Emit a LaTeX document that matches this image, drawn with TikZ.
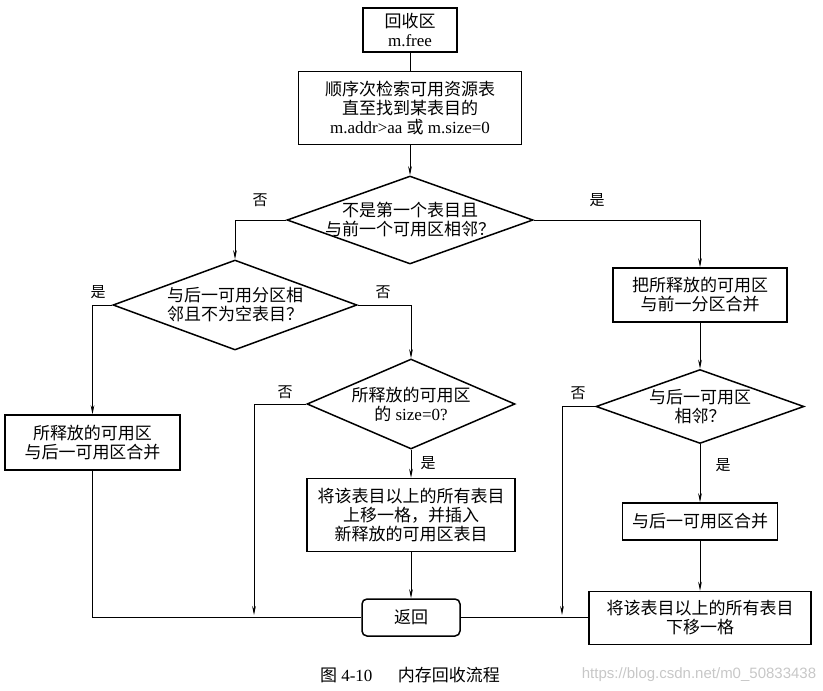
\documentclass[tikz,border=0pt]{standalone}
\usepackage{fontspec}
\setmainfont{Liberation Serif}
\newfontfamily\cjk{Noto Sans CJK SC}
\newfontfamily\wmfont{Liberation Sans}
\newcommand{\zh}[1]{{\cjk #1}}
\newcommand{\boxfont}{\fontsize{17}{19}\selectfont}
\usepackage{tikz}
\usetikzlibrary{positioning,shapes.geometric,arrows.meta}

\begin{document}
\begin{tikzpicture}[
    x=1pt, y=-1pt,
    >={Stealth[length=9pt,width=3.6pt]},
    procnode/.style={rectangle, draw, line width=1.5pt, align=center, inner sep=2pt, font=\boxfont},
    endnode/.style={procnode, rounded corners=5pt},
    decnode/.style={diamond, draw, line width=1.5pt, inner sep=0pt},
    dectext/.style={label={[align=center, font=\boxfont]center:#1}},
    tagnode/.style={font=\fontsize{15}{15}\selectfont, inner sep=0pt},
    flow/.style={line width=0.7pt}
]
\useasboundingbox (0,0) rectangle (823,691);
% main column
\node[procnode, minimum width=94pt, minimum height=44pt](start) at (410,30){\zh{回收区}\\m.free};
\node[procnode, minimum width=223pt, minimum height=73pt](search)[below=18pt of start]{\zh{顺序次检索可用资源表}\\\zh{直至找到某表目的}\\m.addr>aa \zh{或} m.size=0};
\node[decnode, minimum width=246pt, minimum height=88pt, dectext={\zh{不是第一个表目且}\\\zh{与前一个可用区相邻？}}](prev)[below=30pt of search]{};
% left side
\node[decnode, minimum width=244pt, minimum height=90pt, dectext={\zh{与后一可用分区相}\\\zh{邻且不为空表目？}}](nextl) at (235,305){};
\node[procnode, minimum width=175pt, minimum height=55pt](mergenext) at (92.5,442.5){\zh{所释放的可用区}\\\zh{与后一可用区合并}};
\node[decnode, minimum width=208pt, minimum height=90pt, dectext={\zh{所释放的可用区}\\\zh{的} size=0?}](zero) at (411,404){};
\node[procnode, minimum width=208pt, minimum height=73pt](insert)[below=28pt of zero]{\zh{将该表目以上的所有表目}\\\zh{上移一格，并插入}\\\zh{新释放的可用区表目}};
\node[endnode, minimum width=98pt, minimum height=37pt](back)[below=46pt of insert]{\zh{返回}};
% right side
\node[procnode, minimum width=174pt, minimum height=54pt](mergeprev) at (700,295){\zh{把所释放的可用区}\\\zh{与前一分区合并}};
\node[decnode, minimum width=208pt, minimum height=74pt, dectext={\zh{与后一可用区}\\\zh{相邻？}}](nextr)[below=46pt of mergeprev]{};
\node[procnode, minimum width=155pt, minimum height=37pt](mergeboth)[below=58pt of nextr]{\zh{与后一可用区合并}};
\node[procnode, minimum width=222pt, minimum height=53pt](shiftdown)[below=50pt of mergeboth]{\zh{将该表目以上的所有表目}\\\zh{下移一格}};
% yes / no
\node[tagnode](no1) at (260,200){\zh{否}};
\node[tagnode](yes1) at (597,200){\zh{是}};
\node[tagnode](yes2) at (98,292){\zh{是}};
\node[tagnode](no2) at (383,292){\zh{否}};
\node[tagnode](no3) at (285,392){\zh{否}};
\node[tagnode](yes3) at (428,463){\zh{是}};
\node[tagnode](no4) at (578,393){\zh{否}};
\node[tagnode](yes4) at (723,465){\zh{是}};
\coordinate (joinl) at (254,615);
\coordinate (joinr) at (562,615);
\draw[flow] (start) -- (search);
\draw[flow,->] (search) -- (prev);
\draw[flow,->] (prev.west) -| (nextl.north);
\draw[flow,->] (prev.east) -| (mergeprev.north);
\draw[flow,->] (nextl.west) -| (mergenext.north);
\draw[flow,->] (nextl.east) -| (zero.north);
\draw[flow] (mergenext.south) |- (back.west);
\draw[flow,->] (zero.west) -| (joinl);
\draw[flow,->] (zero) -- (insert);
\draw[flow,->] (insert) -- (back);
\draw[flow] (back.east) -- (back.east -| shiftdown.west);
\draw[flow,->] (mergeprev) -- (nextr);
\draw[flow,->] (nextr) -- (mergeboth);
\draw[flow,->] (mergeboth) -- (shiftdown);
\draw[flow,->] (nextr.west) -| (joinr);
% caption
\node[font=\fontsize{17}{17}\selectfont](caption) at (410,675){\zh{图} 4-10\hspace{1.5em}\zh{内存回收流程}};
\node[font=\wmfont\fontsize{15}{15}\selectfont, text=black!22](mark) at (699,675){https://blog.csdn.net/m0\_50833438};
\end{tikzpicture}
\end{document}
